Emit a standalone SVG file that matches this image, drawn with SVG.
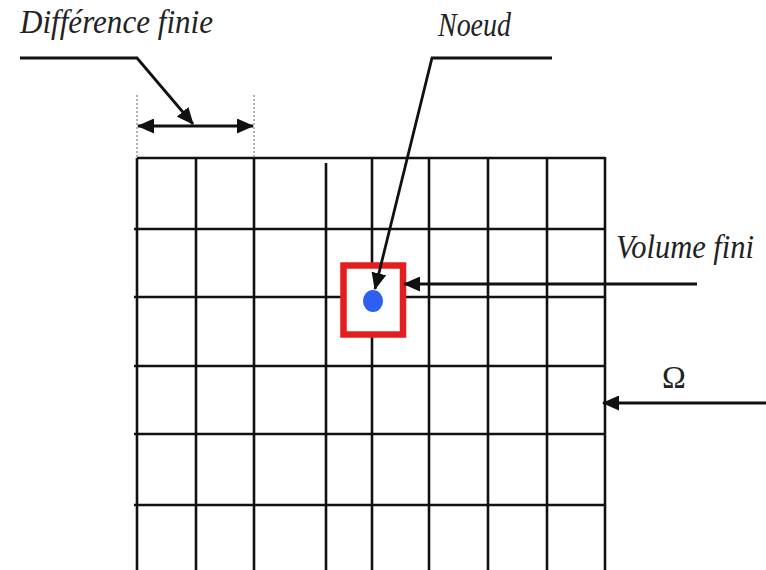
<svg xmlns="http://www.w3.org/2000/svg" width="766" height="570" viewBox="0 0 766 570">
<style>
.grid line{stroke:#111;stroke-width:2.6;}
.lbl{font-family:"Liberation Serif","Times New Roman",serif;font-style:italic;font-size:33px;fill:#222;}
.omega{font-family:"Liberation Serif","Times New Roman",serif;font-size:32px;fill:#222;}
.con{fill:none;stroke:#111;stroke-width:2.8;}
.dot{stroke:#999;stroke-width:1.5;stroke-dasharray:2 2;}
</style>
<defs>
<marker id="ah" markerUnits="userSpaceOnUse" markerWidth="17" markerHeight="15" refX="16" refY="7.5" orient="auto-start-reverse">
<path d="M0,0 L17,7.5 L0,15 Z" fill="#111"/>
</marker>
</defs>
<rect width="766" height="570" fill="#fff"/>
<g id="grid" class="grid">
<line x1="137" y1="158" x2="605" y2="158"/>
<line x1="134" y1="229" x2="605" y2="229"/>
<line x1="134" y1="297" x2="605" y2="297"/>
<line x1="134" y1="366" x2="605" y2="366"/>
<line x1="134" y1="434" x2="605" y2="434"/>
<line x1="134" y1="505" x2="605" y2="505"/>
<line x1="137" y1="158" x2="137" y2="570"/>
<line x1="196" y1="158" x2="196" y2="570"/>
<line x1="254" y1="158" x2="254" y2="570"/>
<line x1="326" y1="163" x2="326" y2="570"/>
<line x1="372" y1="158" x2="372" y2="570"/>
<line x1="429" y1="158" x2="429" y2="570"/>
<line x1="488" y1="158" x2="488" y2="570"/>
<line x1="547" y1="158" x2="547" y2="570"/>
<line x1="605" y1="157" x2="605" y2="570"/>
</g>
<g id="volume-fini-cell">
<rect x="343.5" y="265.5" width="59.5" height="69" fill="#fff" stroke="#e41e1e" stroke-width="6.5"/>
</g>
<g id="noeud-point">
<ellipse cx="373" cy="301" rx="10" ry="11" fill="#2e5ff0"/>
</g>
<g id="labels">
<text class="lbl" x="20" y="33" textLength="193" lengthAdjust="spacingAndGlyphs">Différence finie</text>
<text class="lbl" x="438" y="36" textLength="73" lengthAdjust="spacingAndGlyphs">Noeud</text>
<text class="lbl" x="616" y="258" textLength="138" lengthAdjust="spacingAndGlyphs">Volume fini</text>
<text class="omega" x="662" y="388">Ω</text>
</g>
<g id="connectors">
<line class="dot" x1="137" y1="95" x2="137" y2="158"/>
<line class="dot" x1="254" y1="95" x2="254" y2="158"/>
<line class="con" x1="138" y1="126" x2="253" y2="126" marker-start="url(#ah)" marker-end="url(#ah)"/>
<polyline class="con" points="20,58 137,58 193,124" marker-end="url(#ah)"/>
<polyline class="con" points="552,58 432,58 375,289" marker-end="url(#ah)"/>
<line class="con" x1="697" y1="284" x2="404" y2="284" marker-end="url(#ah)"/>
<line class="con" x1="766" y1="403" x2="603" y2="403" marker-end="url(#ah)"/>
</g>
</svg>
